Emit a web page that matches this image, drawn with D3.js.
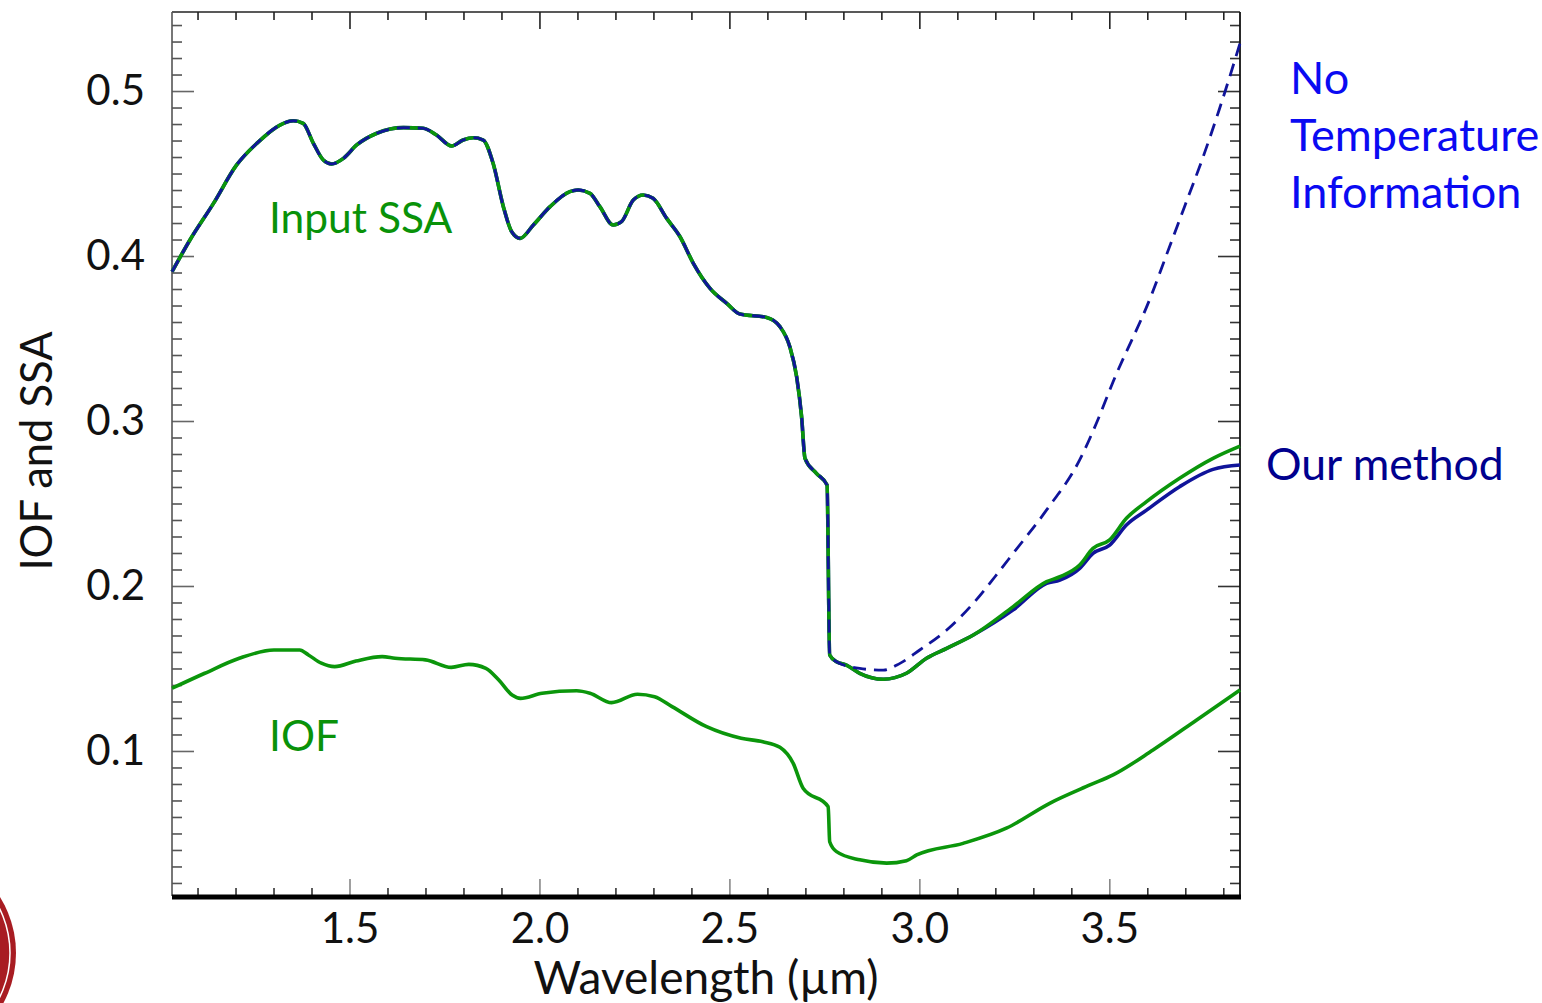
<!DOCTYPE html>
<html>
<head>
<meta charset="utf-8">
<script src="https://cdn.jsdelivr.net/npm/d3@7"></script>
<style>
  body { margin: 0; background: #fff; }
  text { font-family: Lato, "Open Sans", sans-serif; }
</style>
</head>
<body>
<div id="chart"></div>
<script>
var width = 1542, height = 1003;
var margin = {top: 12, right: 302, bottom: 107, left: 172};

// input single scattering albedo (green)
var ssaWl = [1.033, 1.080, 1.142, 1.203, 1.256, 1.317, 1.352, 1.378, 1.405, 1.431,
    1.453, 1.484, 1.519, 1.572, 1.642, 1.694, 1.729, 1.769, 1.799, 1.826,
    1.852, 1.878, 1.905, 1.927, 1.949, 1.984, 2.028, 2.080, 2.102, 2.133,
    2.159, 2.194, 2.216, 2.247, 2.273, 2.299, 2.335, 2.370, 2.405, 2.449,
    2.493, 2.528, 2.598, 2.633, 2.659, 2.677, 2.690, 2.699, 2.729, 2.757,
    2.764, 2.782, 2.808, 2.843, 2.905, 2.966, 3.019, 3.072, 3.142, 3.247,
    3.335, 3.370, 3.422, 3.457, 3.501, 3.545, 3.598, 3.685, 3.773, 3.844];
var ssaVal = [0.3905, 0.4097, 0.4319, 0.4552, 0.4683, 0.4794, 0.4820, 0.4804, 0.4683, 0.4582,
    0.4558, 0.4592, 0.4673, 0.4744, 0.4778, 0.4774, 0.4733, 0.4667, 0.4703, 0.4717,
    0.4703, 0.4562, 0.4299, 0.4147, 0.4107, 0.4188, 0.4299, 0.4390, 0.4400, 0.4380,
    0.4299, 0.4188, 0.4208, 0.4339, 0.4370, 0.4350, 0.4228, 0.4117, 0.3956, 0.3804,
    0.3713, 0.3648, 0.3628, 0.3572, 0.3450, 0.3268, 0.3026, 0.2774, 0.2683, 0.2612,
    0.1582, 0.1541, 0.1521, 0.1471, 0.1435, 0.1471, 0.1562, 0.1622, 0.1703, 0.1875,
    0.2026, 0.2056, 0.2127, 0.2228, 0.2279, 0.2410, 0.2511, 0.2653, 0.2774, 0.2848];

// our method: follows the input up to ~3.14 um, then these points
var ourWl = [3.247, 3.335, 3.370, 3.422, 3.457, 3.501, 3.545, 3.598, 3.685, 3.773, 3.844];
var ourVal = [0.1855, 0.2016, 0.2036, 0.2107, 0.2198, 0.2248, 0.2370, 0.2460, 0.2602, 0.2707, 0.2733];

// no temperature information: follows the input up to ~2.78 um, then these points
var noTempWl = [2.843, 2.905, 2.949, 3.001, 3.072, 3.142, 3.199, 3.247, 3.335, 3.422,
    3.466, 3.510, 3.611, 3.652, 3.698, 3.744, 3.789, 3.817, 3.844];
var noTempVal = [0.1500, 0.1490, 0.1531, 0.1612, 0.1733, 0.1895, 0.2056, 0.2198, 0.2461, 0.2764,
    0.2986, 0.3238, 0.3764, 0.4016, 0.4299, 0.4582, 0.4885, 0.5087, 0.5290];

// IOF (green, lower)
var iofWl = [1.033, 1.119, 1.210, 1.301, 1.369, 1.392, 1.426, 1.461, 1.517, 1.586,
    1.620, 1.700, 1.768, 1.814, 1.859, 1.893, 1.928, 1.950, 2.007, 2.098,
    2.133, 2.190, 2.258, 2.303, 2.349, 2.440, 2.531, 2.588, 2.633, 2.668,
    2.694, 2.760, 2.764, 2.782, 2.843, 2.914, 2.966, 2.993, 3.115, 3.229,
    3.343, 3.449, 3.510, 3.615, 3.730, 3.844];
var iofVal = [0.1380, 0.1471, 0.1562, 0.1612, 0.1612, 0.1582, 0.1532, 0.1511, 0.1545, 0.1572,
    0.1562, 0.1552, 0.1507, 0.1525, 0.1501, 0.1430, 0.1339, 0.1319, 0.1350, 0.1365,
    0.1350, 0.1293, 0.1344, 0.1329, 0.1269, 0.1147, 0.1077, 0.1056, 0.1022, 0.0925,
    0.0774, 0.0662, 0.0450, 0.0390, 0.0340, 0.0320, 0.0335, 0.0370, 0.0440, 0.0532,
    0.0683, 0.0794, 0.0855, 0.1006, 0.1188, 0.1370];

var xTicks = [1.5, 2.0, 2.5, 3.0, 3.5];
var yTicks = [0.1, 0.2, 0.3, 0.4, 0.5];

var green = "#0b960b", navy = "#10149a";

function pts(wl, val) {
    return wl.map((w, i) => ({x: w, y: val[i]}));
}

var ssa = pts(ssaWl, ssaVal);
var ours = ssa.filter(d => d.x <= 3.142).concat(pts(ourWl, ourVal));
var noTemp = ssa.filter(d => d.x <= 2.782).concat(pts(noTempWl, noTempVal));
var iof = pts(iofWl, iofVal);

var svg = d3.select("#chart").append("svg")
    .attr("width", width)
    .attr("height", height);

var x = d3.scaleLinear()
    .domain([1.0328, 3.844])
    .range([margin.left, width - margin.right]);

var y = d3.scaleLinear()
    .domain([0.0121, 0.5479])
    .range([height - margin.bottom, margin.top]);

var x0 = margin.left, x1 = width - margin.right;
var y0 = height - margin.bottom, y1 = margin.top;

var xMinor = d3.range(1.1, 3.81, 0.1).map(d => +d.toFixed(1)).filter(d => xTicks.indexOf(d) < 0);
var yMinor = d3.range(0.02, 0.545, 0.01).map(d => +d.toFixed(2)).filter(d => yTicks.indexOf(d) < 0);

// frame: left, top and right edges with inward ticks
function styleAxis(g, color) {
    g.selectAll("path").remove();
    g.selectAll("line").attr("stroke", color).attr("stroke-width", 1.6);
}

svg.append("g")
    .attr("transform", `translate(${x0},0)`)
    .call(d3.axisLeft(y).tickValues(yMinor).tickSizeInner(-10).tickSizeOuter(0).tickFormat(""))
    .call(g => styleAxis(g, "#555"));
svg.append("g")
    .attr("transform", `translate(${x0},0)`)
    .call(d3.axisLeft(y).tickValues(yTicks).tickSizeInner(-22).tickSizeOuter(0).tickPadding(27)
        .tickFormat(d3.format(".1f")))
    .call(g => styleAxis(g, "#666"))
    .call(g => g.selectAll("text").attr("font-size", 42).attr("fill", "#111"));

svg.append("g")
    .attr("transform", `translate(${x1},0)`)
    .call(d3.axisRight(y).tickValues(yMinor).tickSizeInner(-10).tickSizeOuter(0).tickFormat(""))
    .call(g => styleAxis(g, "#333"));
svg.append("g")
    .attr("transform", `translate(${x1},0)`)
    .call(d3.axisRight(y).tickValues(yTicks).tickSizeInner(-22).tickSizeOuter(0).tickFormat(""))
    .call(g => styleAxis(g, "#333"));

svg.append("g")
    .attr("transform", `translate(0,${y1})`)
    .call(d3.axisTop(x).tickValues(xMinor).tickSizeInner(-8).tickSizeOuter(0).tickFormat(""))
    .call(g => styleAxis(g, "#222"));
svg.append("g")
    .attr("transform", `translate(0,${y1})`)
    .call(d3.axisTop(x).tickValues(xTicks).tickSizeInner(-17).tickSizeOuter(0).tickFormat(""))
    .call(g => styleAxis(g, "#222"));

svg.append("g")
    .attr("transform", `translate(0,${y0})`)
    .call(d3.axisBottom(x).tickValues(xMinor).tickSizeInner(-8).tickSizeOuter(0).tickFormat(""))
    .call(g => styleAxis(g, "#333"));
svg.append("g")
    .attr("transform", `translate(0,${y0})`)
    .call(d3.axisBottom(x).tickValues(xTicks).tickSizeInner(-17).tickSizeOuter(0).tickPadding(17)
        .tickFormat(d3.format(".1f")))
    .call(g => styleAxis(g, "#888"))
    .call(g => g.selectAll("text").attr("font-size", 42).attr("fill", "#111"));

svg.append("line")
    .attr("x1", x0).attr("x2", x1).attr("y1", y1).attr("y2", y1)
    .attr("stroke", "#222").attr("stroke-width", 1.6);
svg.append("line")
    .attr("x1", x0).attr("x2", x0).attr("y1", y1).attr("y2", y0)
    .attr("stroke", "#555").attr("stroke-width", 1.6);
svg.append("line")
    .attr("x1", x1).attr("x2", x1).attr("y1", y1).attr("y2", y0)
    .attr("stroke", "#111").attr("stroke-width", 1.8);
svg.append("line")
    .attr("x1", x0).attr("x2", x1 + 1).attr("y1", y0 + 1).attr("y2", y0 + 1)
    .attr("stroke", "#000").attr("stroke-width", 5);

// curves
var line = d3.line()
    .x(d => x(d.x))
    .y(d => y(d.y))
    .curve(d3.curveMonotoneX);

svg.append("path").datum(ours)
    .attr("fill", "none").attr("stroke", navy).attr("stroke-width", 3.6)
    .attr("d", line);
svg.append("path").datum(ssa)
    .attr("fill", "none").attr("stroke", green).attr("stroke-width", 3.6)
    .attr("d", line);
svg.append("path").datum(noTemp)
    .attr("fill", "none").attr("stroke", navy).attr("stroke-width", 2.8)
    .attr("stroke-dasharray", "13,8")
    .attr("d", line);
svg.append("path").datum(iof)
    .attr("fill", "none").attr("stroke", green).attr("stroke-width", 3.6)
    .attr("d", line);

// labels
svg.append("text")
    .attr("x", 269).attr("y", 233)
    .attr("font-size", 42.5).attr("fill", "#099209")
    .text("Input SSA");
svg.append("text")
    .attr("x", 269).attr("y", 751)
    .attr("font-size", 42.5).attr("fill", "#099209")
    .text("IOF");

svg.append("text")
    .attr("x", 1290).attr("font-size", 45).attr("fill", "#0a0af2")
    .selectAll("tspan")
    .data(["No", "Temperature", "Information"])
    .enter().append("tspan")
    .attr("x", 1290)
    .attr("y", (d, i) => 94 + i * 57)
    .text(d => d);

svg.append("text")
    .attr("x", 1266).attr("y", 480)
    .attr("font-size", 44.5).attr("fill", "#00008e")
    .text("Our method");

svg.append("text")
    .attr("x", 706).attr("y", 994)
    .attr("text-anchor", "middle")
    .attr("font-size", 46).attr("fill", "#111")
    .text("Wavelength (µm)");

svg.append("text")
    .attr("transform", "translate(52,451) rotate(-90)")
    .attr("text-anchor", "middle")
    .attr("font-size", 43.5).attr("fill", "#111")
    .text("IOF and SSA");

// corner of the institution seal
var seal = svg.append("g");
seal.append("circle")
    .attr("cx", -90).attr("cy", 953).attr("r", 106)
    .attr("fill", "#a81c22");
seal.append("circle")
    .attr("cx", -90).attr("cy", 953).attr("r", 100)
    .attr("fill", "none").attr("stroke", "#fff").attr("stroke-width", 1.5);
seal.append("circle")
    .attr("cx", -90).attr("cy", 953).attr("r", 80)
    .attr("fill", "none").attr("stroke", "#f3d7d7").attr("stroke-width", 1.5);
</script>
</body>
</html>
